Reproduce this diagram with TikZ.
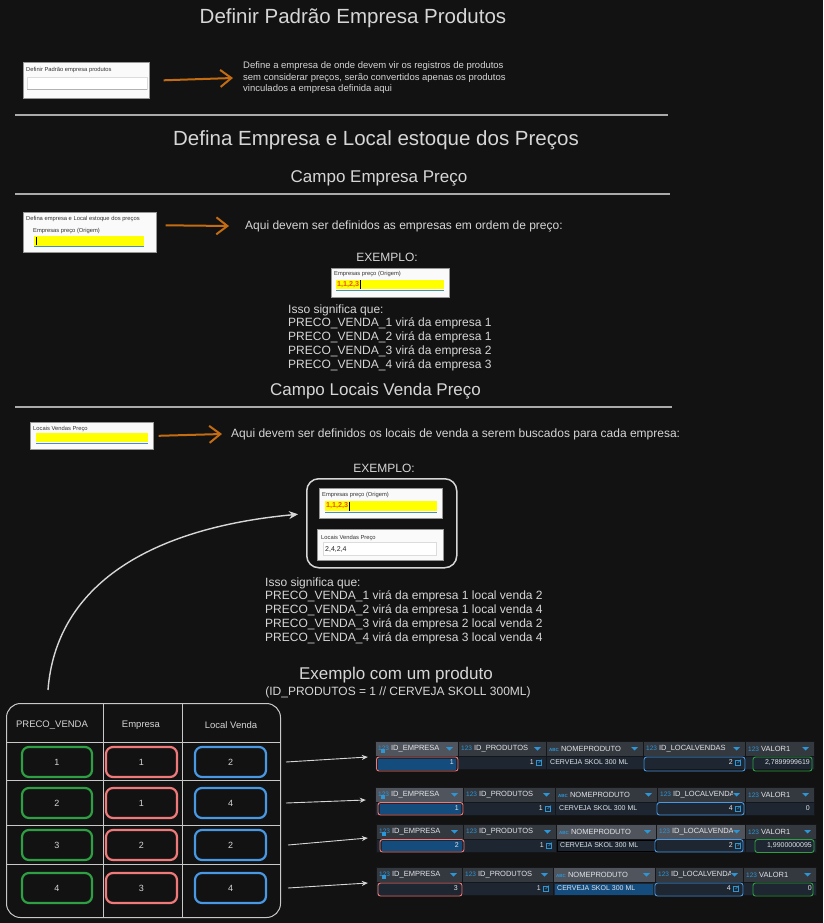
\documentclass[tikz,border=0pt]{standalone}
\usepackage{fontspec}
\setmainfont{Liberation Sans}
\usetikzlibrary{arrows.meta,fit}
\definecolor{bgc}{RGB}{18,18,18}
\definecolor{txtc}{RGB}{214,214,214}
\definecolor{rulec}{RGB}{170,170,170}
\definecolor{orng}{RGB}{196,108,18}
\definecolor{tgreen}{RGB}{46,160,67}
\definecolor{tred}{RGB}{240,122,122}
\definecolor{tblue}{RGB}{72,152,228}
\definecolor{tblc}{RGB}{200,200,200}
\definecolor{shotbg}{RGB}{250,250,250}
\definecolor{shotbd}{RGB}{150,150,150}
\definecolor{slblc}{RGB}{50,50,50}
\definecolor{fieldbd}{RGB}{220,220,220}
\definecolor{ylw}{RGB}{255,255,0}
\definecolor{uline}{RGB}{70,140,200}
\definecolor{valred}{RGB}{235,80,10}
\definecolor{dbhd}{RGB}{52,56,63}
\definecolor{dbhdl}{RGB}{80,84,92}
\definecolor{dbrw}{RGB}{29,38,49}
\definecolor{dbsel}{RGB}{21,76,126}
\definecolor{dbsep}{RGB}{20,22,25}
\definecolor{dbic}{RGB}{45,150,215}
\definecolor{dbtx}{RGB}{225,228,232}
\newcommand\fs[2]{\fontsize{#1}{#2}\selectfont}
\newcommand\dbn{{\color{dbic}\fs{6.5}{7}123}}
\newcommand\dba{{\color{dbic}\fs{4.5}{5}\textbf{ABC}}}
\tikzset{
 ttl/.style={text=txtc,inner sep=0,font=\fs{20.5}{24}},
 sub/.style={text=txtc,inner sep=0,font=\fs{17}{20}},
 body/.style={text=txtc,inner sep=0,font=\fs{12}{13.7},align=left},
 small/.style={text=txtc,inner sep=0,font=\fs{9.5}{11.5},align=left},
 rulel/.style={draw=rulec,line width=1.6pt},
 oarrow/.style={draw=orng,line width=2pt,-{Straight Barb[length=11pt,width=17pt]}},
 shot/.style={draw=shotbd,fill=shotbg,line width=0.6pt,inner sep=0,anchor=north west},
 slbl/.style={text=slblc,inner sep=0,anchor=west,font=\fs{5.8}{6.5}},
 yfield/.style={fill=ylw},
 ufield/.style={draw=uline,line width=1pt},
 wfield/.style={fill=white,draw=fieldbd,line width=0.6pt},
 fval/.style={inner sep=0,anchor=west,font=\fs{7.2}{8}\bfseries,text=valred},
 curv/.style={draw=txtc,line width=1.4pt,-{Stealth[length=9pt,width=8pt]}},
 tarrow/.style={draw=txtc,line width=0.9pt,-{Stealth[length=6pt,width=5pt]}},
 tgrid/.style={draw=tblc,line width=0.9pt},
 thd/.style={text=txtc,inner sep=0,font=\fs{9.5}{11}},
 cellbase/.style={line width=2.2pt,rounded corners=7pt,minimum height=30pt,text=txtc,font=\fs{9}{11},inner sep=0},
 cg/.style={cellbase,draw=tgreen,minimum width=70pt},
 cr/.style={cellbase,draw=tred,minimum width=71pt},
 cb/.style={cellbase,draw=tblue,minimum width=71pt},
 dbh/.style={text=dbtx,inner sep=0,anchor=west,font=\fs{7.5}{8}},
 dbv/.style={text=dbtx,inner sep=0,font=\fs{7}{8}},
 hl/.style={line width=0.9pt,rounded corners=2.5pt},
}
\newcommand\lnk[2]{\draw[dbic,line width=0.5pt] (#1-2.5,#2-2) rectangle (#1+2,#2+2.5); \draw[dbic,line width=0.6pt] (#1-0.5,#2+0.5) -- (#1+3,#2-3);}
% name, y, x0, x1, x2, x3, x4, x5, local label
\newcommand\dbgrid[9]{%
 \fill[\hcA] (#3,#2) rectangle (#4,#2+15);
 \fill[dbhd] (#4,#2) rectangle (#5,#2+15);
 \fill[\hcC] (#5,#2) rectangle (#6,#2+15);
 \fill[\hcD] (#6,#2) rectangle (#7,#2+15);
 \fill[dbhd] (#7,#2) rectangle (#8,#2+15);
 \fill[dbrw] (#3,#2+15) rectangle (#8,#2+28);
 \node[fit={(#3,#2) (#8,#2+28)},inner sep=0] (#1) {};
 \foreach \xx in {#4,#5,#6,#7} {\draw[dbsep,line width=1pt] (\xx,#2) -- (\xx,#2+28);}
 \draw[dbsep,line width=0.8pt] (#3,#2+15) -- (#8,#2+15);
 \draw[dbsep,line width=0.8pt] (#3,#2) rectangle (#8,#2+28);
 \node[dbh] at (#3+3,#2+7.5) {\dbn\ ID\_EMPRESA};
 \fill[dbic] (#3+6,#2+8) rectangle (#3+10,#2+12);
 \node[dbh] at (#4+3,#2+7.5) {\dbn\ ID\_PRODUTOS};
 \node[dbh] at (#5+3,#2+7.5) {\dba\ NOMEPRODUTO};
 \begin{scope}\clip (#6,#2) rectangle (#7-13,#2+15); \node[dbh] at (#6+3,#2+7.5) {\dbn\ #9}; \end{scope}
 \node[dbh] at (#7+3,#2+7.5) {\dbn\ VALOR1};
 \foreach \xx in {#4,#5,#6,#7,#8} {\fill[dbic] (\xx-12,#2+6) -- (\xx-5,#2+6) -- (\xx-8.5,#2+9.5) -- cycle;}
}
% y, x0..x5
\newcommand\dbvals[7]{%
 \node[dbv,anchor=east] at (#3-4,#1+21.5) {\vE};
 \node[dbv,anchor=east] at (#4-12,#1+21.5) {1}; \lnk{#4-7}{#1+21.5}
 \node[dbv,anchor=west] at (#4+4,#1+21.5) {CERVEJA SKOL 300 ML};
 \node[dbv,anchor=east] at (#6-12,#1+21.5) {\vL}; \lnk{#6-7}{#1+21.5}
 \node[dbv,anchor=east] at (#7-4,#1+21.5) {\vV};
}
\begin{document}
\begin{tikzpicture}[x=1pt,y=-1pt]
\fill[bgc] (0,0) rectangle (823,923);
\useasboundingbox (0,0) rectangle (823,923);

% ---------- section 1
\node[ttl] (t1) at (353,18) {Definir Padrão Empresa Produtos};
\node[shot,minimum width=126pt,minimum height=36pt] (shot1) at (23,62) {};
\node[slbl] at (26,70) {Definir Padrão empresa produtos};
\draw[wfield] (27,77) rectangle (147,89);
\draw[draw=black!30,line width=0.8pt] (27,89) -- (147,89);
\node[small,anchor=west] (d1) at (243,78) {Define a empresa de onde devem vir os registros de produtos\\sem considerar preços, serão convertidos apenas os produtos\\vinculados a empresa definida aqui};
\draw[oarrow] ([xshift=14pt]shot1.east) -- ([xshift=-10pt]d1.west);
\draw[rulel] (15,115) -- (668,115);

% ---------- section 2
\node[ttl] (t2) at (376,140) {Defina Empresa e Local estoque dos Preços};
\node[sub] (s1) at (379,178) {Campo Empresa Preço};
\draw[rulel] (15,194) -- (670,194);
\node[shot,minimum width=133pt,minimum height=40pt] (shot2) at (23,212) {};
\node[slbl] at (26,219) {Defina empresa e Local estoque dos preços};
\node[slbl] at (33,231.5) {Empresas preço (Origem)};
\fill[yfield] (34,236) rectangle (144,245.5);
\draw[ufield] (34,246.5) -- (144,246.5);
\draw[black,line width=0.5pt] (36,237) -- (36,245);
\node[body,anchor=west] (a2) at (245,226) {Aqui devem ser definidos as empresas em ordem de preço:};
\draw[oarrow] ([shift={(9,-7)}]shot2.east) -- ([xshift=-16pt]a2.west);

\node[body] (e1) at (387,257) {EXEMPLO:};
\node[shot,minimum width=118pt,minimum height=29pt] (ex1) at (331,268) {};
\node[slbl] at (334,274) {Empresas preço (Origem)};
\fill[yfield] (336,279.5) rectangle (444,289);
\draw[ufield] (336,290.5) -- (444,290.5);
\node[fval] (v1) at (337,284.5) {1,1,2,3};
\draw[black,line width=0.5pt] ([xshift=0.8pt]v1.east) ++(0,-4.5) -- ++(0,9);
\node[body,anchor=west] (i1) at (288,337.5) {Isso significa que:\\PRECO\_VENDA\_1 virá da empresa 1\\PRECO\_VENDA\_2 virá da empresa 1\\PRECO\_VENDA\_3 virá da empresa 2\\PRECO\_VENDA\_4 virá da empresa 3};

% ---------- section 3
\node[sub] (s2) at (375.5,391) {Campo Locais Venda Preço};
\draw[rulel] (15,407) -- (672,407);
\node[shot,minimum width=123pt,minimum height=27pt] (shot3) at (30,422) {};
\node[slbl] at (33,429) {Locais Vendas Preço};
\fill[yfield] (36,433) rectangle (148,442);
\draw[ufield] (36,443.3) -- (148,443.3);
\node[body,anchor=west] (a3) at (231,434) {Aqui devem ser definidos os locais de venda a serem buscados para cada empresa:};
\draw[oarrow] ([xshift=5pt]shot3.east) -- ([xshift=-9pt]a3.west);

\node[body] (e2) at (384,468) {EXEMPLO:};
\node[draw=txtc,line width=1.5pt,rounded corners=12pt,minimum width=150pt,minimum height=89pt,anchor=north west,inner sep=0] (exbox) at (306,478) {};
\node[shot,minimum width=123pt,minimum height=30pt] (exA) at (319,488) {};
\node[slbl] at (322,495) {Empresas preço (Origem)};
\fill[yfield] (325,501) rectangle (437,510.5);
\draw[ufield] (325,512) -- (437,512);
\node[fval] (v2) at (326,506) {1,1,2,3};
\draw[black,line width=0.5pt] ([xshift=0.8pt]v2.east) ++(0,-4.5) -- ++(0,9);
\node[shot,minimum width=126pt,minimum height=31pt] (exB) at (317,529) {};
\node[slbl] at (321,538) {Locais Vendas Preço};
\draw[wfield] (323,542.5) rectangle (436,555.5);
\node[inner sep=0,anchor=west,font=\fs{7}{8},text=black!85] at (325,549) {2,4,2,4};

\node[body,anchor=west] (i2) at (265,610.5) {Isso significa que:\\PRECO\_VENDA\_1 virá da empresa 1 local venda 2\\PRECO\_VENDA\_2 virá da empresa 1 local venda 4\\PRECO\_VENDA\_3 virá da empresa 2 local venda 2\\PRECO\_VENDA\_4 virá da empresa 3 local venda 4};

\node[sub] (x1) at (396,675) {Exemplo com um produto};
\node[body] (x2) at (398,692) {(ID\_PRODUTOS = 1 // CERVEJA SKOLL 300ML)};

% ---------- table
\foreach \xx in {103,182} {\draw[tgrid] (\xx,703) -- (\xx,917);}
\foreach \yy in {742,780,825,864} {\draw[tgrid] (6,\yy) -- (280,\yy);}
\node[draw=tblc,line width=1pt,rounded corners=14pt,minimum width=274pt,minimum height=214pt,anchor=north west,inner sep=0] (tbl) at (6,703) {};
\node[thd] (h1) at (52,725) {PRECO\_VENDA};
\node[thd] (h2) at (141,725) {Empresa};
\node[thd] (h3) at (231,725) {Local Venda};
\node[cg] (c11) at (57,762) {1};   \node[cr] (c12) at (141.5,762) {1}; \node[cb] (c13) at (230.5,762) {2};
\node[cg] (c21) at (57,803) {2};   \node[cr] (c22) at (141.5,803) {1}; \node[cb] (c23) at (230.5,803) {4};
\node[cg] (c31) at (57,845) {3};   \node[cr] (c32) at (141.5,845) {2}; \node[cb] (c33) at (230.5,845) {2};
\node[cg] (c41) at (57,888) {4};   \node[cr] (c42) at (141.5,888) {3}; \node[cb] (c43) at (230.5,888) {4};

\coordinate (cstart) at (48,690);
\draw[curv] (cstart) .. controls (56,585) and (150,528) .. ([shift={(-8,-9)}]exbox.west);

% ---------- db grids
\def\hcA{dbhdl}\def\hcC{dbhd}\def\hcD{dbhd}
\dbgrid{g1}{741}{375}{458}{546}{643}{745}{814}{ID\_LOCALVENDAS}
\fill[dbsel] (378,759) rectangle (456,769.5);
\def\vE{1}\def\vL{2}\def\vV{2,7899999619}
\dbvals{741}{375}{458}{546}{643}{745}{814}
\draw[hl,draw=tred] (376.5,757) rectangle (458,771);
\draw[hl,draw=tblue] (644,757) rectangle (745,771);
\draw[hl,draw=tgreen] (753,757) rectangle (812,771);

\def\hcA{dbhdl}\def\hcC{dbhd}\def\hcD{dbhd}
\dbgrid{g2}{787}{375}{463}{555}{657}{745}{814}{ID\_LOCALVENDAS}
\fill[dbsel] (380,804) rectangle (461,813.5);
\def\vE{1}\def\vL{4}\def\vV{0}
\dbvals{787}{375}{463}{555}{657}{745}{814}
\draw[hl,draw=tred] (378,802.5) rectangle (463,815);
\draw[hl,draw=tblue] (657,802.5) rectangle (744,815);

\def\hcA{dbhd}\def\hcC{dbhdl}\def\hcD{dbhdl}
\dbgrid{g3}{824}{376}{463}{556}{656}{745}{816}{ID\_LOCALVENDAS}
\fill[dbsel] (382,841) rectangle (462,850.5);
\draw[black,line width=0.8pt] (557,840) rectangle (655,851.5);
\def\vE{2}\def\vL{2}\def\vV{1,9900000095}
\dbvals{824}{376}{463}{556}{656}{745}{816}
\draw[hl,draw=tred] (380,839.5) rectangle (464,852);
\draw[hl,draw=tblue] (655,839.5) rectangle (743,852);
\draw[hl,draw=tgreen] (755,839.5) rectangle (814,852.5);

\def\hcA{dbhd}\def\hcC{dbhdl}\def\hcD{dbhd}
\dbgrid{g4}{867}{376}{462}{553}{655}{743}{816}{ID\_LOCALVENDAS}
\fill[dbsel] (555,884) rectangle (653,894.5);
\def\vE{3}\def\vL{4}\def\vV{0}
\dbvals{867}{376}{462}{553}{655}{743}{816}
\draw[hl,draw=tred] (378,883) rectangle (462,896);
\draw[hl,draw=tblue] (655,883) rectangle (743,896);
\draw[hl,draw=tgreen] (753,883) rectangle (813,896);

% ---------- table arrows
\draw[tarrow] ([xshift=5pt]c13.east -| tbl.east) -- ([shift={(-7,2)}]g1.west);
\draw[tarrow] ([xshift=5pt]c23.east -| tbl.east) -- ([shift={(-9,-1)}]g2.west);
\draw[tarrow] ([xshift=7pt]c33.east -| tbl.east) -- ([xshift=-8pt]g3.west);
\draw[tarrow] ([xshift=7pt]c43.east -| tbl.east) -- ([shift={(-8,2)}]g4.west);
\end{tikzpicture}
\end{document}
